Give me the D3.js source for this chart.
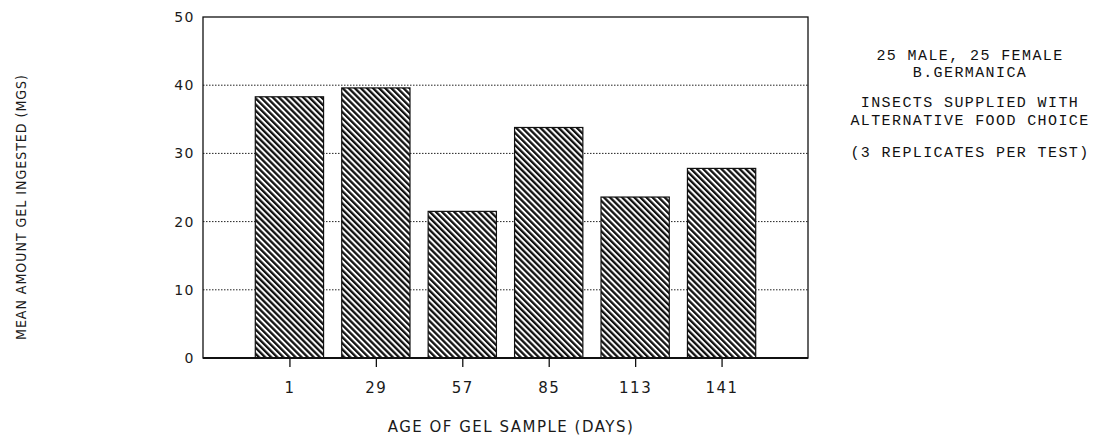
<!DOCTYPE html>
<html lang="en">
<meta charset="utf-8">
<script src="https://cdn.jsdelivr.net/npm/d3@7"></script>
<style>
  body { margin: 0; background: #fff; }
  .tick text, .lab { font-family: "DejaVu Sans", sans-serif; font-weight: normal; fill: #1a1a1a; }
  .note { font-family: "Liberation Mono", "DejaVu Sans Mono", monospace; font-size: 15px; letter-spacing: 1.4px; fill: #111; }
</style>
<body>
<script>
// chart data
var days = ["1", "29", "57", "85", "113", "141"];
var gelIngested = [38.3, 39.6, 21.5, 33.8, 23.6, 27.8];
var yTicks = [0, 10, 20, 30, 40, 50];
var noteLines = ["25 MALE, 25 FEMALE", "B.GERMANICA", "INSECTS SUPPLIED WITH", "ALTERNATIVE FOOD CHOICE", "(3 REPLICATES PER TEST)"];

var W = 1105, H = 437;
var margin = {top: 17, right: 297, bottom: 79, left: 203};
var width = W - margin.left - margin.right;
var height = H - margin.top - margin.bottom;

var svg = d3.select("body").append("svg")
    .attr("width", W).attr("height", H);

// diagonal hatch
var defs = svg.append("defs");
var pat = defs.append("pattern")
    .attr("id", "hatch")
    .attr("patternUnits", "userSpaceOnUse")
    .attr("width", 4.3).attr("height", 4.3)
    .attr("patternTransform", "rotate(-45)");
pat.append("rect").attr("width", 4.3).attr("height", 4.3).attr("fill", "#fff");
pat.append("rect").attr("x", 0).attr("width", 2.3).attr("height", 4.3).attr("fill", "#111");

var g = svg.append("g")
    .attr("transform", "translate(" + margin.left + "," + margin.top + ")");

var x = d3.scalePoint().domain(days).range([0, width]).padding(1);
var step = x.step();
var barW = step * 0.79;
var y = d3.scaleLinear().domain([0, 50]).range([height, 0]);

// dotted grid
g.selectAll(".grid")
    .data(yTicks.filter(function(d){ return d > 0 && d < 50; }))
    .enter().append("line")
    .attr("x1", 0).attr("x2", width)
    .attr("y1", function(d){ return y(d); })
    .attr("y2", function(d){ return y(d); })
    .attr("stroke", "#222")
    .attr("stroke-width", 1)
    .attr("stroke-dasharray", "1.5,1.5");

// bars
g.selectAll(".bar")
    .data(gelIngested)
    .enter().append("rect")
    .attr("class", "bar")
    .attr("x", function(d, i){ return x(days[i]) - barW / 2; })
    .attr("y", function(d){ return y(d); })
    .attr("width", barW)
    .attr("height", function(d){ return height - y(d); })
    .attr("fill", "url(#hatch)")
    .attr("stroke", "#111")
    .attr("stroke-width", 1.2);

// frame
g.append("rect")
    .attr("width", width).attr("height", height)
    .attr("fill", "none").attr("stroke", "#111").attr("stroke-width", 1.3);
g.append("line")
    .attr("x1", 0).attr("x2", width)
    .attr("y1", height).attr("y2", height)
    .attr("stroke", "#111").attr("stroke-width", 2);

// y axis
var yAxis = d3.axisLeft(y).tickValues(yTicks).tickSize(0).tickPadding(8);
g.append("g").call(yAxis)
    .call(function(s){ s.select(".domain").remove(); })
    .selectAll("text").style("font-size", "14px").style("letter-spacing", "1.5px");

// x axis
var xAxis = d3.axisBottom(x).tickSize(8).tickPadding(15);
g.append("g")
    .attr("transform", "translate(0," + (height + 1) + ")")
    .call(xAxis)
    .call(function(s){ s.select(".domain").remove(); })
    .call(function(s){ s.selectAll("line").attr("stroke", "#111").attr("stroke-width", 1.3); })
    .selectAll("text").style("font-size", "15px").style("letter-spacing", "1.5px");

// axis titles
svg.append("text").attr("class", "lab")
    .attr("x", 511).attr("y", 432)
    .attr("text-anchor", "middle")
    .style("font-size", "15px").style("letter-spacing", "1.5px")
    .text("AGE OF GEL SAMPLE (DAYS)");

svg.append("text").attr("class", "lab")
    .attr("transform", "translate(26,207) rotate(-90)")
    .attr("text-anchor", "middle")
    .style("font-family", "DejaVu Sans Condensed")
    .style("font-size", "14px").style("letter-spacing", "1px")
    .text("MEAN AMOUNT GEL INGESTED (MGS)");

// notes
var ny = [60, 77, 107, 125, 157];
svg.append("g").selectAll("text")
    .data(noteLines)
    .enter().append("text")
    .attr("class", "note")
    .attr("x", 970)
    .attr("y", function(d, i){ return ny[i]; })
    .attr("text-anchor", "middle")
    .text(function(d){ return d; });
</script>
</body>
</html>
